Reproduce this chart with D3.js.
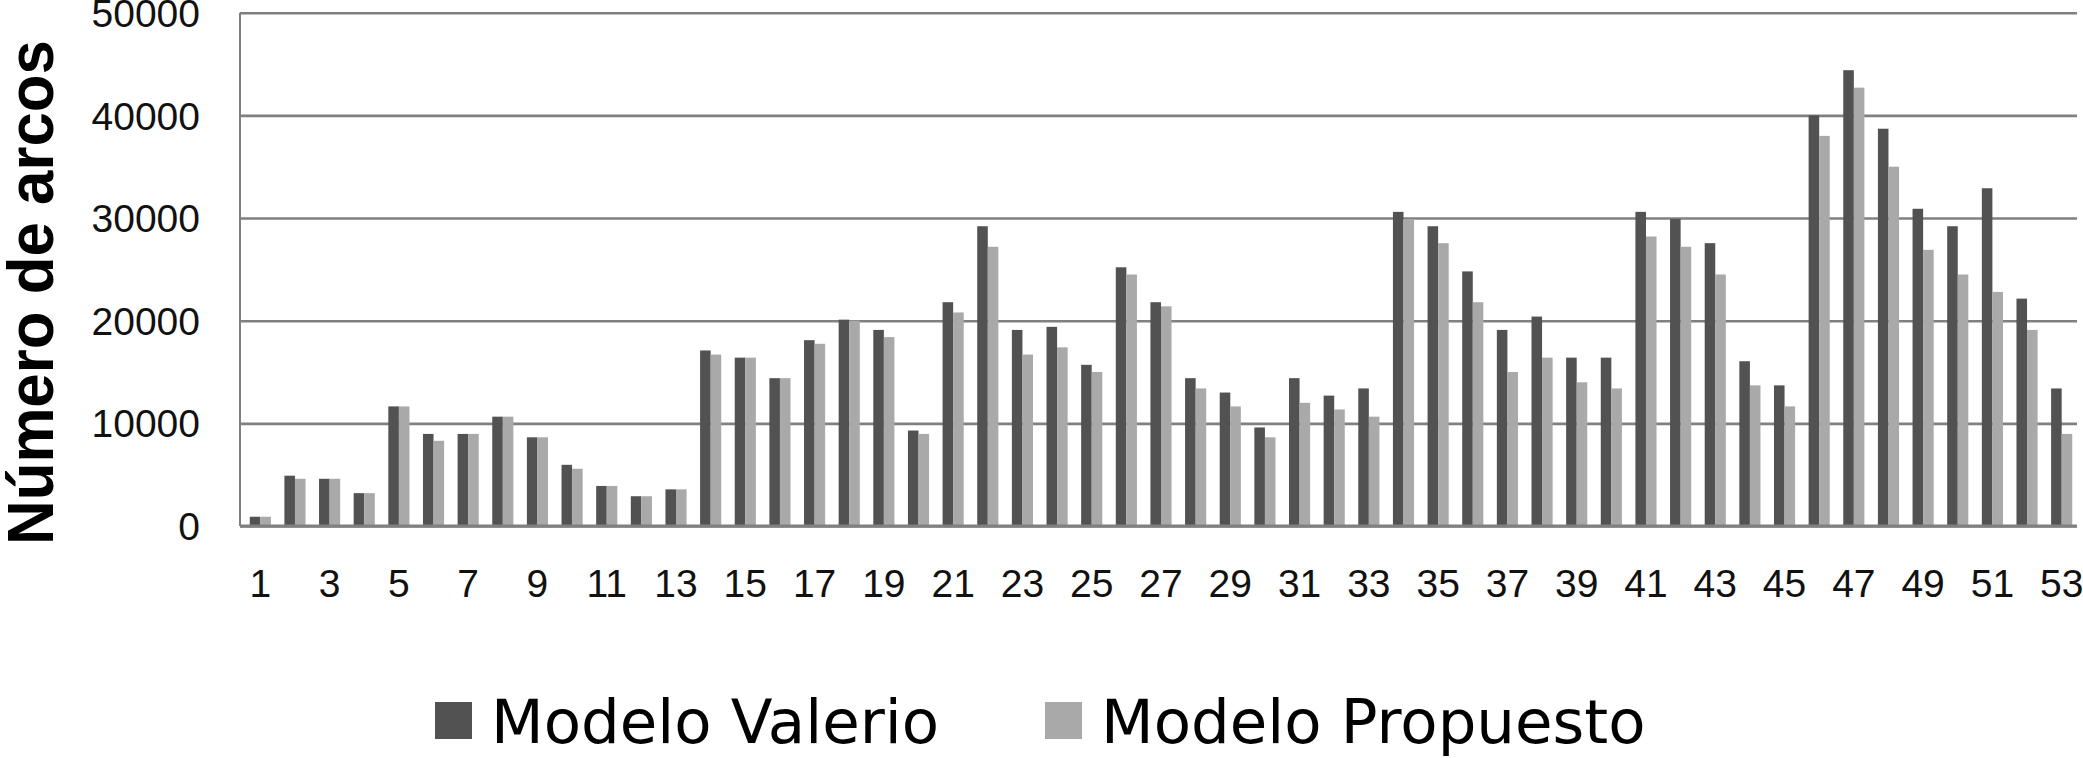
<!DOCTYPE html>
<html>
<head>
<meta charset="utf-8">
<script src="https://cdn.jsdelivr.net/npm/d3@7/dist/d3.min.js"></script>
<style>
  html, body { margin: 0; padding: 0; background: #ffffff; }
  svg { display: block; }
</style>
</head>
<body>
<svg id="chart" width="2083" height="758"></svg>
<script>
const categories = d3.range(1, 54).map(String);
const seriesNames = ["Modelo Valerio", "Modelo Propuesto"];
const valerio = [900, 4900, 4600, 3200, 11650, 8970, 8970, 10650, 8640, 5960,
  3900, 2900, 3570, 17100, 16400, 14400, 18100, 20100, 19100, 9300,
  21800, 29200, 19100, 19400, 15700, 25200, 21800, 14400, 13000, 9600,
  14400, 12700, 13400, 30600, 29200, 24800, 19100, 20400, 16400, 16400,
  30600, 29900, 27550, 16050, 13700, 40000, 44400, 38700, 30900, 29200,
  32900, 22150, 13400];
const propuesto = [900, 4600, 4600, 3200, 11650, 8300, 8970, 10650, 8640, 5580,
  3900, 2900, 3570, 16700, 16400, 14400, 17750, 20000, 18400, 8970,
  20800, 27200, 16700, 17400, 15000, 24500, 21400, 13400, 11650, 8640,
  12000, 11350, 10650, 29900, 27550, 21800, 15000, 16400, 14000, 13400,
  28200, 27200, 24500, 13700, 11650, 38000, 42700, 35000, 26900, 24500,
  22800, 19100, 8970];
const yTicks = [0, 10000, 20000, 30000, 40000, 50000];
const xTickLabels = categories.filter((d, i) => i % 2 === 0);
const yTitle = "Número de arcos";
const colors = ["#525252", "#a9a9a9"];

const svg = d3.select("#chart");
const plotLeft = 240, plotRight = 2077, plotTop = 12.7, plotBottom = 526;

const x0 = d3.scaleBand().domain(categories).range([243, 2079])
  .paddingInner(0.39).paddingOuter(0.195);
const x1 = d3.scaleBand().domain(seriesNames).range([0, x0.bandwidth()]);
const y = d3.scaleLinear().domain([0, 50000]).range([plotBottom, plotTop]);

// gridlines
const yAxis = d3.axisLeft(y).tickValues(yTicks).tickSize(-(plotRight - plotLeft)).tickFormat(d => d);
const gy = svg.append("g").attr("transform", `translate(${plotLeft},0)`).call(yAxis);
gy.select(".domain").remove();
gy.selectAll(".tick line").attr("stroke", "#808080").attr("stroke-width", 2.6);
gy.selectAll(".tick text")
  .attr("x", -40)
  .attr("dy", "0.35em")
  .attr("fill", "#111")
  .style("font-family", "'Liberation Sans', Arial, sans-serif")
  .style("font-size", "39px");

// left axis line
svg.append("line").attr("x1", plotLeft).attr("x2", plotLeft)
  .attr("y1", y(50000)).attr("y2", plotBottom)
  .attr("stroke", "#808080").attr("stroke-width", 2);

// bars
const data = categories.map((c, i) => ({ c, vals: [valerio[i], propuesto[i]] }));
const groups = svg.append("g").selectAll("g").data(data).join("g")
  .attr("transform", d => `translate(${x0(d.c)},0)`);
groups.selectAll("rect")
  .data(d => d.vals.map((v, k) => ({ name: seriesNames[k], v, k })))
  .join("rect")
  .attr("x", d => x1(d.name))
  .attr("width", x1.bandwidth())
  .attr("y", d => y(d.v))
  .attr("height", d => plotBottom - y(d.v))
  .attr("fill", d => colors[d.k]);

// baseline on top
svg.append("line").attr("x1", plotLeft).attr("x2", plotRight)
  .attr("y1", plotBottom).attr("y2", plotBottom)
  .attr("stroke", "#808080").attr("stroke-width", 3);

// x axis labels
const xAxis = d3.axisBottom(x0).tickValues(xTickLabels).tickSize(0);
const gx = svg.append("g").attr("transform", `translate(0,${plotBottom})`).call(xAxis);
gx.select(".domain").remove();
gx.selectAll(".tick text")
  .attr("y", 71)
  .attr("dy", 0)
  .attr("fill", "#111")
  .style("font-family", "'Liberation Sans', Arial, sans-serif")
  .style("font-size", "39px");

// y title
svg.append("text")
  .attr("transform", "translate(53,292.5) rotate(-90)")
  .attr("text-anchor", "middle")
  .attr("textLength", 505)
  .attr("lengthAdjust", "spacingAndGlyphs")
  .style("font-family", "'Liberation Sans', Arial, sans-serif")
  .style("font-weight", "bold")
  .style("font-size", "64px")
  .attr("fill", "#000")
  .text(yTitle);

// legend
const legendX = [435, 1045];
const lg = svg.append("g").selectAll("g").data(seriesNames).join("g")
  .attr("transform", (d, i) => `translate(${legendX[i]},702)`);
lg.append("rect").attr("width", 37).attr("height", 37).attr("fill", (d, i) => colors[i]);
lg.append("text")
  .attr("x", 56)
  .attr("y", 40.7)
  .style("font-family", "'DejaVu Sans', Verdana, sans-serif")
  .style("font-size", "61px")
  .attr("fill", "#000")
  .text(d => d);
</script>
</body>
</html>
